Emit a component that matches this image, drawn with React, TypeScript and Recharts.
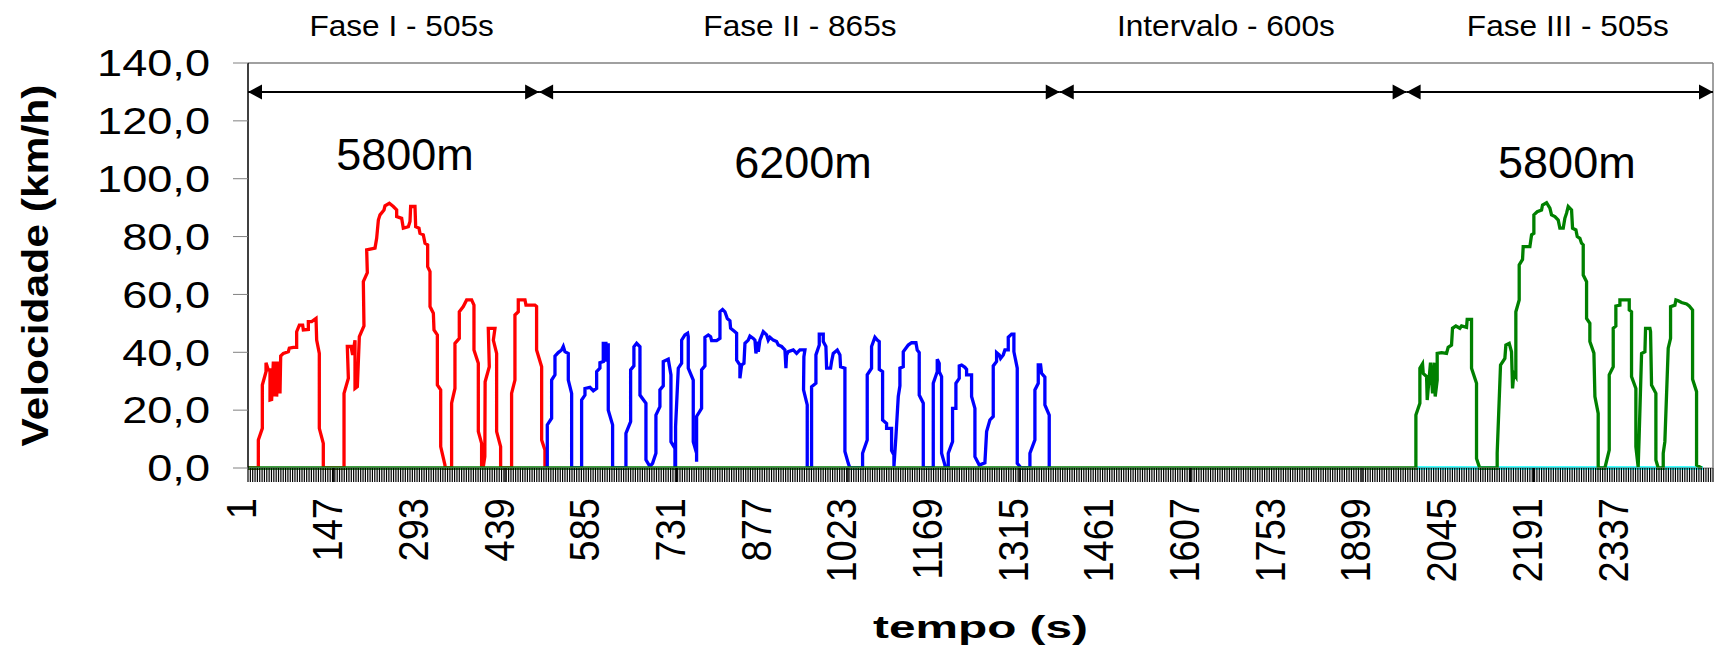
import { LineChart, Line, XAxis, YAxis, ReferenceLine, ReferenceDot } from "recharts";

const FONT = "'Liberation Sans', Arial, sans-serif";

// Fase I - vermelho
const faseI_t = [
  1, 18.6, 18.6, 25.4, 25.4, 31.7, 31.7, 35.6, 38.5, 38.5, 41.3, 44.2, 45.3, 48.1, 49.8, 52.7, 55.5, 56.7,
  61.2, 69.7, 71.4, 78.2, 83.9, 83.9, 88.5, 94.1, 95.3, 103.8, 103.8, 109.5, 116.9, 118, 122.5, 122.5, 129.3, 129.3,
  164.6, 164.6, 172, 170.2, 176.5, 179.3, 183.3, 183.3, 187.3, 190.7, 198.6, 197.5, 204.3, 203.2, 217.4, 220.2,
  223.1, 225.9, 232.7, 234.4, 241.8, 248.6, 254.3, 254.3, 262.8, 265.6, 274.2, 277, 278.1, 285.5, 286.7, 292.3,
  294, 299.7, 302.6, 307.1, 307.1, 311.1, 311.1, 316.8, 317.9, 323.6, 323.6, 329.3, 329.3, 336.6, 336.6,
  347.9, 347.9, 353.6, 353.6, 361, 361, 367.8, 373.5, 382, 386, 386, 393.4, 393.4, 399, 399, 401.9, 404.5, 405,
  412.1, 410.4, 421.8, 419, 424.6, 424.6, 431.4, 431.4,
  450.1, 450.1, 455.8, 455.8, 461.5, 461.5, 472.9, 474.6, 489.9, 492.7, 492.7, 501.3, 501.3, 506.9, 506.9,
];
const faseI_v = [
  0, 0, 9.7, 13.7, 28.7, 33.3, 36.4, 33.9, 33.9, 23.5, 23.7, 36.8, 24.7, 36.8, 24.7, 36.8, 25.8, 38.7,
  39.6, 40.2, 41.4, 41.7, 41.7, 47.1, 49.4, 49.4, 47.7, 47.9, 50.6, 50.6, 51.7, 44.2, 39.6, 13.7, 8.5, 0,
  0, 25.8, 31, 42, 42, 39.1, 44.2, 27.5, 28.1, 45.4, 49.1, 64.4, 67.5, 75.4, 76, 79.4,
  85.7, 87.5, 89.2, 90.6, 91.5, 90.4, 89.2, 86.9, 86.3, 82.9, 83.4, 85.2, 90.4, 90.4, 83.4, 82.9,
  81.1, 80.6, 77.7, 77.1, 69.6, 67.9, 55.8, 53.5, 47.7, 46, 28.7, 27, 7.4, 1, 0,
  0, 22.4, 27.5, 43.1, 44.8, 54, 55.8, 58.1, 58.1, 56.3, 40.8, 36.2, 12.6, 8.5, 0.5, 0.5, 3.9, 29.8,
  35, 48.3, 48.3, 44.2, 39.6, 12.6, 7.4, 0,
  0, 25.8, 30.4, 52.9, 54, 58.1, 58.1, 56.3, 56.3, 55.8, 40.8, 35, 9.7, 6.2, 0,
];

// Fase II - azul
const faseII_t = [
  510.9, 510.9, 518.3, 518.3, 524, 524, 529.6, 535.3, 538.2, 541, 546.7, 546.7, 552.4, 552.4,
  569.4, 569.4, 575.1, 575.1, 583.6, 589.3, 595, 595, 600.6, 600.6, 606.3, 606.3, 610.8, 610.8, 614.8, 614.8, 622.2, 622.2,
  644.9, 644.9, 652.9, 652.9, 658.5, 658.5, 663.1, 668.8, 668.8, 679, 679, 685.8, 690.3, 696, 696, 702.8, 702.8,
  708.5, 708.5, 717, 721.6, 721.6, 728.4, 728.4,
  729.5, 729.5, 734.1, 739.8, 739.8, 745.4, 750, 751.1, 751.1, 759.6, 759.6, 765.3, 765.3,
  765.3, 773.8, 773.8, 779.5, 779.5, 785.2, 789.2, 790.9, 799.4, 805.1, 805.1, 809.6, 813.6, 817.6, 822.1, 823.2,
  830.6, 833.5, 833.5, 839.1, 839.1, 842, 846, 847.7, 853.3, 856.2, 861.9, 864.7, 866.4, 868.7, 870.4, 873.2,
  878.9, 884.6, 887.4, 890.3, 895.9, 901.6, 904.5, 910.1, 915.8, 917.5, 918.6, 921.5, 930, 935.7, 941.3, 947,
  949.9, 948.1, 947.5, 953.8, 953.8,
  961.2, 961.2, 968.6, 968.6, 974.3, 974.3, 981.1, 981.1, 985.6, 986.8, 993.6, 995.3, 998.1, 1005, 1009.5,
  1010.6, 1018, 1018, 1023.7, 1026.5,
  1048.1, 1048.1, 1056, 1056, 1063.4, 1063.4, 1069.1, 1073.1, 1076.5, 1076.5, 1082.2, 1082.2, 1089, 1089,
  1097.5, 1097.5, 1101.5, 1101.5, 1104.9, 1108.9, 1111.7, 1111.7, 1117.4, 1117.4, 1125.9, 1131.6, 1139,
  1141.2, 1144.6, 1144.6, 1151.5, 1151.5,
  1168.5, 1168.5, 1175.3, 1175.3, 1178.7, 1178.7, 1182.7, 1182.7, 1188.4, 1188.4,
  1194.1, 1194.1, 1201.4, 1201.4, 1207.1, 1207.1, 1212.8, 1212.8, 1216.8, 1222.4, 1225.3, 1225.3, 1233.8,
  1233.8, 1239.5, 1239.5, 1246.9, 1256.5, 1259.4, 1265, 1270.7, 1270.7, 1276.4, 1276.4, 1281, 1283.2, 1287.8,
  1290.6, 1296.3, 1296.3, 1302, 1305.9, 1305.9, 1311.6, 1311.6, 1316.2, 1316.2,
  1333.2, 1333.2, 1341.7, 1341.7, 1347.4, 1347.4, 1351.4, 1353.1, 1358.7, 1358.7, 1366.1, 1366.1,
];
const faseII_v = [
  0, 14.9, 17.2, 30.4, 32.2, 38.7, 39.9, 40.8, 42, 40.2, 39.6, 30.4, 25.8, 0,
  0, 23.5, 25.2, 27.5, 27.9, 26.7, 27.5, 33.3, 34.5, 36.4, 36.8, 43.1, 43.1, 36.8, 43.1, 20, 14.9, 0,
  0, 12, 16, 33.9, 35.3, 41.9, 43.1, 41.9, 25.2, 22.4, 2.8, 0.5, 1.6, 5.1, 18.3, 21.2, 27,
  28.4, 36.8, 37.6, 32.2, 9.1, 6.8, 0,
  0, 14.3, 34.5, 36.2, 44.2, 46, 46.6, 45.4, 34.5, 30.4, 9.1, 5.1, 2.2,
  17.8, 20.6, 33.9, 35.3, 45.2, 46, 45.4, 44, 44, 44.8, 54, 54.8, 54, 51.7, 50.9, 48.3,
  47.1, 46.6, 37.3, 35.6, 31, 35.6, 36.2, 43.1, 44.2, 45.6, 44.8, 44.2, 39.6, 43.7, 40.2, 44.2,
  47.1, 46, 44.2, 45.2, 44.2, 43.7, 42.5, 42, 40.8, 34.5, 39.1, 40.2, 40.8, 39.6, 40.8, 40.8,
  40.8, 38.5, 27, 21.8, 0,
  0, 28.1, 29.3, 39.1, 42.5, 46.3, 46.3, 43.7, 42, 34.5, 34.5, 36.8, 39.6, 40.8, 39.1,
  35, 34.5, 5.7, 1.6, 0,
  0, 5.1, 9.7, 32.2, 34.5, 42, 45.2, 44.2, 43.7, 34.1, 33.3, 16.6, 15.4, 13.7,
  13.7, 6, 4.5, 0.5, 10.8, 24.7, 28.4, 34.5, 35, 40.2, 42.5, 43.3, 43.3,
  40.8, 39.9, 25.2, 22.4, 0,
  0, 29.3, 33.3, 37.6, 36.2, 33.3, 31.6, 5.1, 1, 0,
  0, 5.1, 9.1, 20.6, 20.6, 29.3, 31, 35.3, 35.6, 34.8, 34.1, 32.2, 32.2,
  24.7, 20.6, 3.9, 1, 1.8, 12.6, 16.6, 17.8, 35.3, 36.8, 39.9, 39.1, 37.9, 39.1,
  40.8, 40.8, 45.2, 46.3, 46.3, 40.2, 34.5, 1.6, 0.5, 0,
  0, 5.1, 9.7, 27, 29.3, 35.6, 35.6, 32.7, 31.4, 21.8, 18.3, 0,
];

// Fase III - verde (zero durante fases I, II e intervalo)
const faseIII_t = [
  1, 1990.8,
  1990.8, 1997.6, 1997.6, 2002.1, 2003.3, 2009, 2010.1, 2015.7, 2019.2, 2022, 2023.7, 2027.1, 2027.1, 2034.5,
  2043, 2045.8, 2051.5, 2053.2, 2058.9, 2065.7, 2068.6, 2077.1, 2078.2, 2085.6, 2085.6, 2094.1, 2094.1, 2098.7, 2099.8,
  2129.3, 2129.3, 2135, 2142.4, 2144.1, 2149.8, 2153.7, 2155.5, 2157.7, 2161.1, 2161.1, 2166.8, 2166.8, 2172.5,
  2173.6, 2179.3, 2185, 2187.9, 2191.8, 2191.8, 2197.5, 2204.9, 2206.6, 2213.4, 2219.1, 2221.9, 2227.6, 2233.3,
  2236.1, 2241.8, 2244.6, 2247.5, 2250.3, 2256, 2257.7, 2263.4, 2265.7, 2270.2, 2273, 2275.9, 2275.9, 2281.6,
  2281.6, 2287.2, 2287.2, 2294.1, 2295.8, 2301.4, 2301.4,
  2312.8, 2320.2, 2320.2, 2327, 2327, 2331.5, 2331.5, 2338.4, 2338.4, 2354.3, 2354.3, 2358.2, 2358.2, 2365.6,
  2365.6, 2369.5, 2371, 2375.3, 2381, 2382.1, 2389.5, 2390.6, 2392.3, 2399.7, 2399.7, 2403.7,
  2412.2, 2412.2, 2415, 2420.7, 2424.7, 2424.7, 2432.1, 2433.8, 2437.7, 2443.4, 2452, 2456.5, 2462.2, 2462.2,
  2469, 2469, 2477.5,
];
const faseIII_v = [
  0, 0,
  18.3, 22.4, 34.5, 36, 32.7, 31.6, 23.5, 36.4, 25.8, 36.4, 24.7, 30.4, 39.6, 39.9,
  39.6, 41.7, 42.5, 48.3, 49.1, 48.3, 49.1, 48.6, 51.4, 51.4, 34.5, 29.3, 3.3, 0.5, 0,
  0, 5.1, 35.6, 37.9, 42.5, 43.1, 40.2, 27.5, 32.7, 31.6, 54, 58.1, 70.2, 72.1,
  76.5, 76.5, 76.5, 80.6, 81.1, 87.5, 88.6, 89.2, 90.9, 91.7, 89.8, 87.5, 86.9, 85.7,
  82.9, 82.9, 86.3, 88.1, 90.4, 89.2, 82.9, 82.3, 80, 79.4, 77.7, 77.1, 66.7, 64.4,
  51.7, 50, 43.7, 39.7, 24.7, 18.9, 0,
  0, 6.2, 32.2, 35, 48.3, 49.1, 56, 56.3, 58.1, 58.1, 54.6, 54, 31.6, 27.5,
  7.4, 0.3, 9.7, 39.6, 40.2, 48.3, 48.3, 47.1, 28.7, 25.8, 2.8, 0,
  0, 5.1, 9.1, 41.4, 44.8, 55.8, 56.3, 58.1, 57.8, 57.2, 56.7, 56, 54.6, 30.7,
  26.4, 1, 0,
];

// linha ciano no eixo durante a fase III
const ciano_t = [1990.8, 2480];
const ciano_v = [0, 0];

const yTicks = [0, 20, 40, 60, 80, 100, 120, 140];
const xLabelTicks = [1, 147, 293, 439, 585, 731, 877, 1023, 1169, 1315, 1461, 1607, 1753, 1899, 2045, 2191, 2337];
const X_MAX = 2497;

// limites das setas das fases e textos
const phaseBounds = [1, 497, 1384, 1975, X_MAX];
const phaseTitles = ["Fase I - 505s", "Fase II - 865s", "Intervalo - 600s", "Fase III - 505s"];
const phaseTitleT = [262.8, 941.4, 1667.1, 2249.7];
const distLabels = ["5800m", "6200m", "5800m"];
const distT = [268.5, 946.5, 2248];
const distV = [103, 100.1, 100.1];

const toPoints = (t: number[], v: number[]) => t.map((x, i) => ({ t: x, v: v[i] }));

const labelSet = new Set(xLabelTicks);
const combTicks = Array.from(
  new Set([...Array.from({ length: 625 }, (_, i) => 1 + i * 4), ...xLabelTicks])
).sort((a, b) => a - b);

const fmt = (v: number) => v.toFixed(1).replace(".", ",");

const YTick = (props: any) => {
  const { x, y, payload } = props;
  return (
    <g transform={`translate(${x - 21},${y}) scale(1.22,1)`}>
      <text textAnchor="end" dy="0.36em" fontSize={37} fontFamily={FONT} fill="#000">
        {fmt(payload.value)}
      </text>
    </g>
  );
};

const XTick = (props: any) => {
  const { x, y, payload } = props;
  if (!labelSet.has(payload.value)) return <g />;
  return (
    <g transform={`translate(${x - 7},${y + 14}) scale(1.13,1) rotate(-90)`}>
      <text textAnchor="end" dy="0.36em" fontSize={38} fontFamily={FONT} fill="#000">
        {payload.value}
      </text>
    </g>
  );
};

const yTitle = (props: any) => {
  const vb = props.viewBox;
  const cx = vb.x + 35;
  const cy = vb.y + vb.height / 2;
  return (
    <text
      transform={`translate(${cx},${cy}) rotate(-90)`}
      textAnchor="middle"
      dy="0.36em"
      fontSize={36}
      fontWeight="bold"
      fontFamily={FONT}
      textLength={362}
      lengthAdjust="spacingAndGlyphs"
      fill="#000"
    >
      Velocidade (km/h)
    </text>
  );
};

const xTitle = (props: any) => {
  const vb = props.viewBox;
  return (
    <text
      x={vb.x + vb.width / 2}
      y={vb.y + 170}
      textAnchor="middle"
      fontSize={32}
      fontWeight="bold"
      fontFamily={FONT}
      textLength={215}
      lengthAdjust="spacingAndGlyphs"
      fill="#000"
    >
      tempo (s)
    </text>
  );
};

const head = (dir: number) => (p: any) => (
  <polygon
    points={`${p.cx},${p.cy} ${p.cx + 14 * dir},${p.cy - 7.5} ${p.cx + 14 * dir},${p.cy + 7.5}`}
    fill="#000"
  />
);

const textShape = (label: string, size: number, sx: number) => (p: any) => (
  <g transform={`translate(${p.cx},${p.cy}) scale(${sx},1)`}>
    <text textAnchor="middle" fontSize={size} fontFamily={FONT} fill="#000">
      {label}
    </text>
  </g>
);

export default function App() {
  return (
    <div style={{ position: "absolute", left: 0, top: 0, background: "#fff" }}>
      <LineChart width={1715} height={650} margin={{ top: 63, right: 2, bottom: 0, left: 0 }}>
        <XAxis
          dataKey="t"
          type="number"
          domain={[1, X_MAX]}
          allowDataOverflow
          ticks={combTicks}
          interval={0}
          tickSize={14}
          tickLine={{ stroke: "#000", strokeWidth: 1.2 }}
          axisLine={{ stroke: "#808080" }}
          tick={XTick}
          height={182}
          label={xTitle}
        />
        <YAxis
          type="number"
          domain={[0, 140]}
          ticks={yTicks}
          interval={0}
          width={248}
          tickSize={15}
          tickLine={{ stroke: "#808080" }}
          axisLine={{ stroke: "#000", strokeWidth: 1.5 }}
          tick={YTick}
          label={yTitle}
        />
        <ReferenceLine y={140} stroke="#808080" strokeWidth={1.5} />
        <ReferenceLine x={X_MAX} stroke="#808080" strokeWidth={1.5} />

        <Line data={toPoints(ciano_t, ciano_v)} dataKey="v" stroke="#00FFFF" strokeWidth={3.3} dot={false} isAnimationActive={false} />
        <Line data={toPoints(faseI_t, faseI_v)} dataKey="v" stroke="#FF0000" strokeWidth={3.3} dot={false} isAnimationActive={false} />
        <Line data={toPoints(faseII_t, faseII_v)} dataKey="v" stroke="#0000FF" strokeWidth={3.3} dot={false} isAnimationActive={false} />
        <Line data={toPoints(faseIII_t, faseIII_v)} dataKey="v" stroke="#008000" strokeWidth={3.3} dot={false} isAnimationActive={false} />

        {phaseTitles.map((_, i) => (
          <ReferenceLine
            key={`seg${i}`}
            segment={[
              { x: phaseBounds[i], y: 130 },
              { x: phaseBounds[i + 1], y: 130 },
            ]}
            stroke="#000"
            strokeWidth={2}
          />
        ))}
        {phaseTitles.map((_, i) => (
          <ReferenceDot key={`hl${i}`} x={phaseBounds[i]} y={130} ifOverflow="visible" shape={head(1)} />
        ))}
        {phaseTitles.map((_, i) => (
          <ReferenceDot key={`hr${i}`} x={phaseBounds[i + 1]} y={130} ifOverflow="visible" shape={head(-1)} />
        ))}
        {phaseTitles.map((title, i) => (
          <ReferenceDot key={`pt${i}`} x={phaseTitleT[i]} y={149.3} ifOverflow="visible" shape={textShape(title, 29, 1.09)} />
        ))}
        {distLabels.map((d, i) => (
          <ReferenceDot key={`d${i}`} x={distT[i]} y={distV[i]} ifOverflow="visible" shape={textShape(d, 45, 1)} />
        ))}
      </LineChart>
    </div>
  );
}
